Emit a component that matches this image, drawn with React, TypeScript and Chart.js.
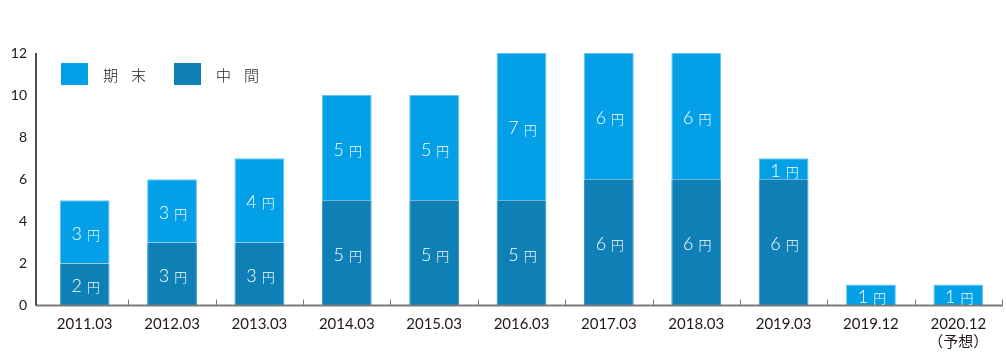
import React, { useEffect, useRef } from "react";
import { Chart, registerables } from "chart.js";

Chart.register(...registerables);

const categories: (string | string[])[] = [
  "2011.03", "2012.03", "2013.03", "2014.03", "2015.03", "2016.03",
  "2017.03", "2018.03", "2019.03", "2019.12", ["2020.12", "（予想）"],
];
const interimValues: (number | null)[] = [2, 3, 3, 5, 5, 5, 6, 6, 6, null, null];
const finalValues: number[] = [3, 3, 4, 5, 5, 7, 6, 6, 1, 1, 1];
const yTicks = [0, 2, 4, 6, 8, 10, 12];
const seriesNames = { interim: "中間", final: "期末" };
const unit = "円";

const LIGHT = "#03a0e7";
const DARK = "#0f80b6";
const TEXT = "#231815";
const FONT = "Lato, 'Noto Sans CJK JP', sans-serif";
const CJK = "'Noto Sans CJK JP', sans-serif";

const decorPlugin = {
  id: "decor",
  afterDatasetsDraw(chart: any) {
    const { ctx, chartArea } = chart;
    const n = categories.length;
    const step = (chartArea.right - chartArea.left) / n;
    ctx.save();
    // x axis line
    ctx.strokeStyle = "#7a7a7a";
    ctx.lineWidth = 2;
    ctx.beginPath();
    ctx.moveTo(chartArea.left - 5, chartArea.bottom);
    ctx.lineTo(chartArea.right + 1, chartArea.bottom);
    ctx.stroke();
    // ticks upward at boundaries
    ctx.lineWidth = 1;
    for (let i = 1; i <= n; i++) {
      const x = Math.round(chartArea.left + i * step) + 0.5;
      ctx.beginPath();
      ctx.moveTo(x, chartArea.bottom);
      ctx.lineTo(x, chartArea.bottom - 6);
      ctx.stroke();
    }
    // y axis line
    ctx.strokeStyle = "#111";
    ctx.lineWidth = 1.5;
    ctx.beginPath();
    ctx.moveTo(chartArea.left - 5, chartArea.top);
    ctx.lineTo(chartArea.left - 5, chartArea.bottom);
    ctx.stroke();

    // value labels
    ctx.fillStyle = "#ffffff";
    ctx.textBaseline = "middle";
    chart.data.datasets.forEach((ds: any, di: number) => {
      const meta = chart.getDatasetMeta(di);
      meta.data.forEach((el: any, i: number) => {
        const v = ds.data[i];
        if (v == null || v === 0) return;
        const cy = (el.y + el.base) / 2 + 2;
        const num = String(v);
        const numFont = `300 18px ${FONT}`;
        const unitFont = `300 13px ${CJK}`;
        ctx.font = numFont;
        const w1 = ctx.measureText(num).width;
        ctx.font = unitFont;
        const w2 = ctx.measureText(unit).width;
        const gap = 5;
        const total = w1 + gap + w2;
        const sx = el.x - total / 2 + 1;
        ctx.textAlign = "left";
        ctx.font = numFont;
        ctx.fillText(num, sx, cy);
        ctx.font = unitFont;
        ctx.fillText(unit, sx + w1 + gap, cy + 1);
      });
    });

    // legend
    const items = [
      { label: seriesNames.final, color: LIGHT, x: 61 },
      { label: seriesNames.interim, color: DARK, x: 174 },
    ];
    items.forEach((it) => {
      ctx.fillStyle = it.color;
      ctx.fillRect(it.x, 63, 27, 22);
      ctx.fillStyle = TEXT;
      ctx.font = `300 15px ${CJK}`;
      ctx.textAlign = "left";
      ctx.textBaseline = "middle";
      const chars = Array.from(it.label);
      chars.forEach((c, k) => {
        ctx.fillText(c, it.x + 42 + k * 28, 75);
      });
    });
    ctx.restore();
  },
};

export default function App() {
  const ref = useRef<HTMLCanvasElement | null>(null);
  useEffect(() => {
    document.body.style.margin = "0";
    if (!ref.current) return;
    const chart = new Chart(ref.current, {
      type: "bar",
      data: {
        labels: categories as any,
        datasets: [
          {
            label: seriesNames.interim,
            data: interimValues,
            backgroundColor: DARK,
            borderColor: "#2f92c4",
            borderWidth: { left: 1, right: 1, top: 0, bottom: 0 } as any,
            categoryPercentage: 1,
            barPercentage: 0.57,
          },
          {
            label: seriesNames.final,
            data: finalValues,
            backgroundColor: LIGHT,
            borderColor: "#62c5f0",
            borderWidth: 1,
            borderSkipped: "bottom",
            categoryPercentage: 1,
            barPercentage: 0.57,
          },
        ],
      },
      options: {
        responsive: false,
        animation: false,
        layout: { padding: { top: 53, right: 4, left: 0, bottom: 0 } },
        plugins: { legend: { display: false }, tooltip: { enabled: false } },
        scales: {
          x: {
            stacked: true,
            grid: { display: false, drawTicks: false },
            border: { display: false },
            ticks: { color: TEXT, font: { size: 15, family: FONT, lineHeight: 1.2 }, padding: 10, maxRotation: 0, autoSkip: false },
            afterFit: (s: any) => { s.height = 52.5; },
          },
          y: {
            stacked: true,
            min: 0,
            max: 12,
            afterBuildTicks: (s: any) => { s.ticks = yTicks.map((v) => ({ value: v })); },
            grid: { display: false, drawTicks: false },
            border: { display: false },
            ticks: { color: TEXT, font: { size: 14, family: FONT }, padding: 14 },
            afterFit: (s: any) => { s.width = 41; },
          },
        },
      },
      plugins: [decorPlugin],
    });
    return () => chart.destroy();
  }, []);
  return <canvas ref={ref} width={1006} height={358} style={{ display: "block" }} />;
}
